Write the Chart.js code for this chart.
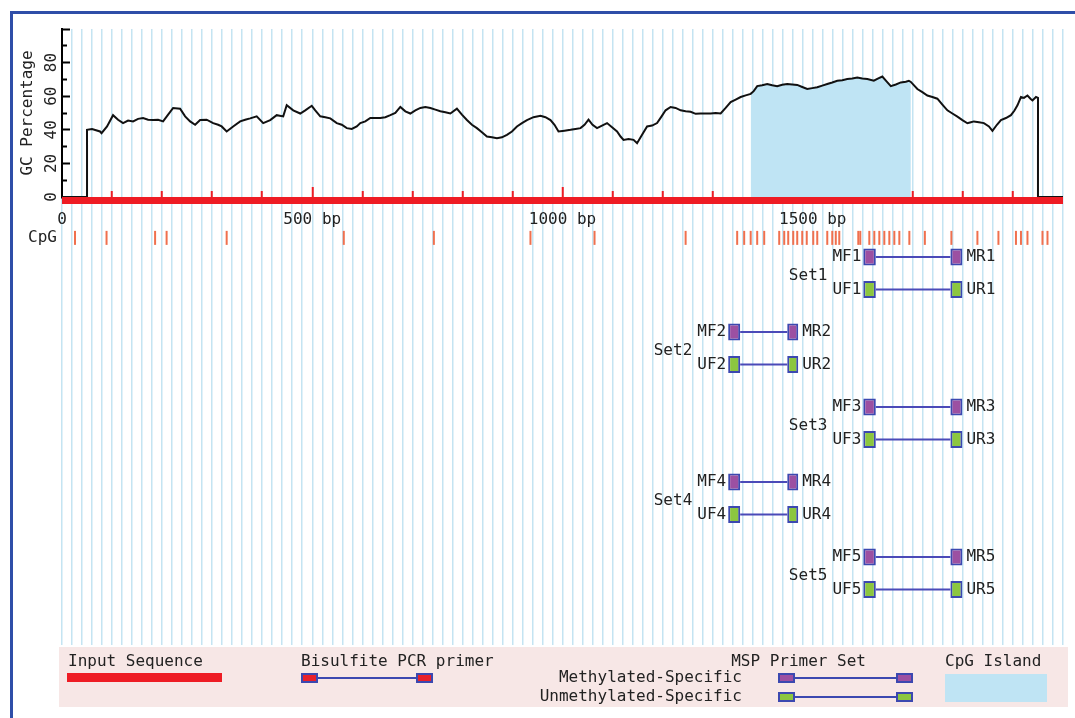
<!DOCTYPE html>
<html>
<head>
<meta charset="utf-8">
<script src="https://cdn.jsdelivr.net/npm/chart.js@4.4.0/dist/chart.umd.min.js"></script>
<style>
  html, body { margin: 0; padding: 0; background: #fff; }
  body { width: 1075px; height: 718px; position: relative; overflow: hidden;
         font-family: "DejaVu Sans Mono", monospace; font-size: 16px; color: #222; }
  #frame { position: absolute; left: 10px; top: 11px; width: 1080px; height: 720px;
           border-top: 3px solid #2f4ea8; border-left: 3px solid #2f4ea8; }
  #chart { position: absolute; left: 0; top: 0; }
  #legendBox { position: absolute; left: 59px; top: 647px; width: 1009px; height: 60px; background: #f7e7e6; }
  .lg { position: absolute; line-height: 16px; white-space: pre; }
  .rt { text-align: right; }
  .box { position: absolute; box-sizing: border-box; border: 2px solid #3c48b0; height: 10px; width: 17px; }
  .link { position: absolute; height: 2px; background: #3c48b0; }
</style>
</head>
<body>
<div id="frame"></div>
<div id="legendBox"></div>
<canvas id="chart" width="1075" height="718"></canvas>

<div class="lg" style="left:68px; top:653px">Input Sequence</div>
<div style="position:absolute; left:67px; top:673px; width:155px; height:9px; background:#ee1c24"></div>

<div class="lg" style="left:301px; top:653px">Bisulfite PCR primer</div>
<div class="box" style="left:301px; top:673px; background:#e8202a"></div>
<div class="link" style="left:318px; top:677px; width:98px"></div>
<div class="box" style="left:416px; top:673px; background:#e8202a"></div>

<div class="lg rt" style="left:600px; width:266px; top:653px">MSP Primer Set</div>
<div class="lg rt" style="left:500px; width:242px; top:669px">Methylated-Specific</div>
<div class="lg rt" style="left:500px; width:242px; top:688px">Unmethylated-Specific</div>
<div class="box" style="left:778px; top:673px; background:#9c50a2"></div>
<div class="link" style="left:795px; top:677px; width:101px"></div>
<div class="box" style="left:896px; top:673px; background:#9c50a2"></div>
<div class="box" style="left:778px; top:692px; background:#8cc63f"></div>
<div class="link" style="left:795px; top:696px; width:101px"></div>
<div class="box" style="left:896px; top:692px; background:#8cc63f"></div>

<div class="lg" style="left:945px; top:653px">CpG Island</div>
<div style="position:absolute; left:945px; top:674px; width:102px; height:28px; background:#bfe4f4"></div>

<script>
// GC-Kurve: Position (bp) und GC-Anteil (%)
const gcPos = [0, 50, 50, 60, 76, 79, 90, 102, 112, 122, 132, 142, 152, 162, 172, 182, 192, 202, 212, 222,
  236, 246, 256, 266, 276, 289, 302, 312, 319, 329, 342, 356, 366, 376, 389, 402, 416, 429, 442, 449,
  462, 476, 486, 499, 506, 516, 526, 536, 549, 559, 569, 579, 589, 596, 606, 616, 636, 646, 656, 666,
  676, 686, 696, 706, 716, 726, 736, 746, 756, 766, 776, 789, 799, 809, 819, 829, 839, 849, 859, 869,
  879, 889, 899, 909, 919, 929, 942, 956, 966, 976, 984, 992, 1004, 1016, 1026, 1036, 1044, 1052, 1060, 1069,
  1079, 1089, 1099, 1109, 1116, 1122, 1132, 1142, 1149, 1159, 1169, 1179, 1189, 1198, 1206, 1216, 1226, 1236, 1246, 1256,
  1266, 1276, 1286, 1296, 1306, 1316, 1326, 1336, 1346, 1356, 1366, 1376, 1382, 1389, 1399, 1409, 1419, 1429, 1439, 1449,
  1459, 1469, 1479, 1489, 1499, 1509, 1519, 1529, 1539, 1549, 1559, 1569, 1579, 1589, 1599, 1609, 1622, 1630, 1639, 1647,
  1656, 1666, 1676, 1686, 1692, 1696, 1709, 1719, 1729, 1739, 1749, 1759, 1769, 1779, 1789, 1799, 1809, 1816, 1822, 1832,
  1842, 1852, 1859, 1868, 1876, 1886, 1896, 1903, 1909, 1916, 1922, 1929, 1935, 1939, 1946, 1950, 1950, 2000];
const gcVal = [0, 0, 40, 40.5, 39, 38, 42, 48.7, 46, 44, 45.5, 45, 46.5, 47, 46, 45.8, 46, 45, 49, 53,
  52.6, 48, 45, 43, 45.8, 46, 44, 43, 42, 39, 42, 45, 46, 46.8, 48, 44, 45.8, 48.7, 48, 54.6,
  51.6, 49.7, 51.6, 54.3, 51.6, 48, 47.5, 46.8, 44, 43, 41, 40.5, 42, 44, 45, 47, 47, 47.5, 48.7, 50,
  53.6, 51, 49.7, 51.5, 53, 53.5, 53, 52, 51, 50.5, 49.7, 52.6, 49, 45.8, 43, 41, 38.5, 36, 35.5, 35,
  35.5, 37, 39, 42, 44, 45.8, 47.5, 48.3, 47.5, 45.8, 43, 39, 39.5, 40, 40.5, 41, 43, 46, 43, 41,
  42.5, 44, 41.5, 39, 36, 34, 34.5, 34, 32, 37, 42, 42.5, 44, 48, 51.6, 53.6, 53, 51.6, 51, 50.7,
  49.5, 49.7, 49.7, 49.7, 50, 49.7, 53, 56.5, 58, 59.5, 60.5, 61.4, 63, 66, 66.5, 67.3, 66.5, 66, 66.8, 67.3,
  67, 66.7, 65.5, 64.3, 64.8, 65.3, 66.3, 67.3, 68.2, 69.2, 69.5, 70.2, 70.5, 71.1, 70.6, 70.2, 69.2, 70.5, 71.7, 69,
  66, 67, 68.2, 68.6, 69.2, 68.5, 64.3, 62.4, 60.4, 59.5, 58.5, 55, 51.6, 49.7, 47.8, 45.8, 43.9, 44.5, 45, 44.5,
  44, 42, 39.4, 43, 45.8, 47, 48.7, 51.5, 54.6, 59.5, 59, 60.4, 58.5, 57.5, 59.5, 59, 0, 0];

const seqLength = 2000;
const islandStart = 1376;
const islandEnd = 1696;

// CpG-Positionen (bp)
const cpgSites = [26, 89, 186, 209, 329, 563, 743, 936, 1064, 1246, 1349, 1363, 1376, 1389, 1403, 1433, 1443,
  1451, 1461, 1469, 1479, 1488, 1501, 1509, 1529, 1539, 1546, 1553, 1591, 1595, 1613, 1623, 1633, 1643, 1653,
  1663, 1673, 1693, 1724, 1777, 1829, 1871, 1906, 1916, 1929, 1959, 1969];

// MSP Primer-Sets (bp)
const setNames = ['Set1', 'Set2', 'Set3', 'Set4', 'Set5'];
const fwdStart = [1601, 1331, 1601, 1331, 1601];
const fwdEnd = [1626, 1355, 1626, 1355, 1626];
const revStart = [1775, 1449, 1775, 1449, 1775];
const revEnd = [1799, 1471, 1799, 1471, 1799];

const gcTickLabels = [0, 20, 40, 60, 80];
const bpTickLabels = [0, 500, 1000, 1500];

// Spuren auf der unteren Achse
const SEQ_ROW = 0.09;
const CPG_ROW = 1.09;
const mRow = i => 2 * (i + 1) - 0.4;
const uRow = i => 2 * (i + 1) + 0.47;
const setRow = i => 2 * (i + 1) + 0.1;

const mono = '"DejaVu Sans Mono", monospace';
Chart.defaults.font.family = mono;
Chart.defaults.font.size = 16;
Chart.defaults.color = '#222';

const gcData = gcPos.map((p, i) => ({x: p, y: gcVal[i]}));
const islandData = gcData.filter(d => d.x >= islandStart && d.x <= islandEnd);

const boxData = (rowFn) => setNames.flatMap((s, i) => [
  {y: rowFn(i), x: [fwdStart[i], fwdEnd[i]]},
  {y: rowFn(i), x: [revStart[i], revEnd[i]]}
]);
const linkData = setNames.flatMap((s, i) => [
  {x: fwdEnd[i], y: mRow(i)}, {x: revStart[i], y: mRow(i)}, {x: revStart[i], y: null},
  {x: fwdEnd[i], y: uRow(i)}, {x: revStart[i], y: uRow(i)}, {x: revStart[i], y: null}
]);

// Beschriftung der Primer und der CpG-Spur
const trackLabels = {
  id: 'trackLabels',
  afterDatasetsDraw(chart) {
    const {ctx} = chart;
    const x = chart.scales.x;
    const yRows = chart.scales.yRows;
    ctx.save();
    ctx.font = '16px ' + mono;
    ctx.fillStyle = '#222';
    ctx.textBaseline = 'middle';
    ctx.textAlign = 'right';
    ctx.fillText('CpG', x.getPixelForValue(0) - 5, yRows.getPixelForValue(CPG_ROW));
    setNames.forEach((name, i) => {
      const n = i + 1;
      const fx = x.getPixelForValue(fwdStart[i]) - 2;
      const rx = x.getPixelForValue(revEnd[i]) + 4;
      ctx.textAlign = 'right';
      ctx.fillText('MF' + n, fx, yRows.getPixelForValue(mRow(i)));
      ctx.fillText('UF' + n, fx, yRows.getPixelForValue(uRow(i)));
      const w = ctx.measureText('MF' + n).width;
      ctx.fillText(name, fx - w - 5, yRows.getPixelForValue(setRow(i)));
      ctx.textAlign = 'left';
      ctx.fillText('MR' + n, rx, yRows.getPixelForValue(mRow(i)));
      ctx.fillText('UR' + n, rx, yRows.getPixelForValue(uRow(i)));
    });
    ctx.restore();
  }
};

new Chart(document.getElementById('chart').getContext('2d'), {
  type: 'line',
  data: {
    datasets: [
      {
        label: 'GC Percentage', data: gcData, xAxisID: 'x', yAxisID: 'y',
        borderColor: '#111', borderWidth: 2, pointRadius: 0, tension: 0, order: 1
      },
      {
        type: 'scatter', label: 'CpG', data: cpgSites.map(p => ({x: p, y: CPG_ROW})),
        xAxisID: 'x', yAxisID: 'yRows',
        pointStyle: 'line', pointRotation: 90, pointRadius: 7,
        pointBorderColor: '#f0704e', pointBorderWidth: 2, order: 2
      },
      {
        label: 'Input Sequence', data: [{x: 0, y: SEQ_ROW}, {x: seqLength, y: SEQ_ROW}],
        xAxisID: 'x', yAxisID: 'yRows',
        borderColor: '#ee1c24', borderWidth: 7.5, borderCapStyle: 'butt', pointRadius: 0, order: 3
      },
      {
        label: 'CpG Island', data: islandData, xAxisID: 'x', yAxisID: 'y',
        borderColor: 'rgba(0,0,0,0)', borderWidth: 0, pointRadius: 0,
        fill: 'origin', backgroundColor: '#bfe4f4', order: 4
      },
      {
        type: 'bar', label: 'Methylated-Specific', indexAxis: 'y', data: boxData(mRow),
        xAxisID: 'x', yAxisID: 'yRows', grouped: false, maxBarThickness: 17,
        backgroundColor: '#9c50a2', borderColor: '#3c48b0', borderWidth: 2, borderSkipped: false, order: 5
      },
      {
        type: 'bar', label: 'Unmethylated-Specific', indexAxis: 'y', data: boxData(uRow),
        xAxisID: 'x', yAxisID: 'yRows', grouped: false, maxBarThickness: 17,
        backgroundColor: '#8cc63f', borderColor: '#3c48b0', borderWidth: 2, borderSkipped: false, order: 5
      },
      {
        label: 'links', data: linkData, xAxisID: 'x', yAxisID: 'yRows',
        borderColor: '#4a4ab8', borderWidth: 2, pointRadius: 0, spanGaps: false, order: 6
      }
    ]
  },
  options: {
    responsive: false,
    animation: false,
    devicePixelRatio: 1,
    layout: {padding: {left: 0, top: 29, right: 12, bottom: 73}},
    plugins: {legend: {display: false}, tooltip: {enabled: false}},
    scales: {
      x: {
        type: 'linear', min: 0, max: seqLength, offset: false,
        position: {y: 0},
        border: {display: false},
        grid: {
          offset: false,
          color: '#c4e4f2', lineWidth: 1.5,
          drawTicks: true, tickLength: -10, tickWidth: 2,
          tickColor: c => (c.tick && c.tick.value % 100 === 0 && c.tick.value > 0 && c.tick.value < seqLength) ? '#ee1c24' : 'rgba(0,0,0,0)',
          tickBorderDash: c => (c.tick && c.tick.value % 500 === 0) ? [] : [6, 100]
        },
        ticks: {
          stepSize: 20, autoSkip: false, maxRotation: 0, padding: 23.4, color: '#222',
          callback: v => bpTickLabels.includes(v) ? (v === 0 ? '0' : v + ' bp') : ''
        },
        afterFit: s => { s.paddingLeft = 0; s.paddingRight = 0; }
      },
      y: {
        type: 'linear', position: 'left', stack: 'left', stackWeight: 168, weight: 1,
        min: 0, max: 100, offset: false,
        border: {display: true, color: '#000', width: 2},
        grid: {
          drawOnChartArea: false, drawTicks: true, tickLength: -8, tickColor: '#000', tickWidth: 2,
          tickBorderDash: c => (c.tick && c.tick.value % 20 === 0) ? [] : [0, 3, 6, 100]
        },
        ticks: {
          stepSize: 10, autoSkip: false, minRotation: 90, maxRotation: 90, crossAlign: 'center', padding: 8.4, color: '#222',
          callback: v => gcTickLabels.includes(v) ? String(v) : ''
        },
        title: {display: true, text: 'GC Percentage', color: '#222', padding: {top: 18.4, bottom: 0}},
        afterFit: s => { s.width = 62; }
      },
      yRows: {
        type: 'linear', position: 'left', stack: 'left', stackWeight: 448, weight: 0,
        min: 0, max: 11.947, reverse: true, display: false, offset: false,
        grid: {offset: false}
      }
    }
  },
  plugins: [trackLabels]
});
</script>
</body>
</html>
